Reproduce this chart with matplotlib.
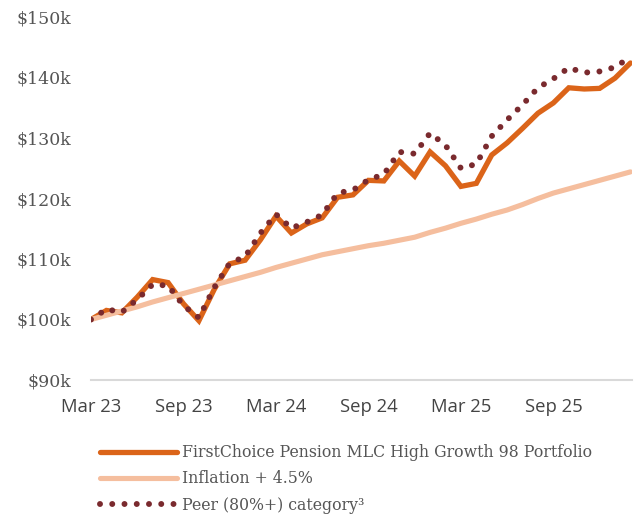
import matplotlib
matplotlib.use("Agg")
import matplotlib.pyplot as plt
import numpy as np

# Monthly values, Mar 2023 .. Feb 2026 (growth of $100k, in $k)
months = list(range(36))
portfolio = [100.0, 101.5, 101.1, 103.7, 106.6, 106.1, 102.6, 99.8, 105.0, 109.2,
             109.8, 113.2, 117.1, 114.3, 115.8, 116.8, 120.2, 120.6, 123.0, 122.9,
             126.2, 123.7, 127.7, 125.4, 122.0, 122.5, 127.2, 129.2, 131.6, 134.1,
             135.8, 138.3, 138.1, 138.2, 139.9, 142.4]
inflation = [100.0, 100.7, 101.4, 102.1, 102.9, 103.6, 104.3, 105.0, 105.7, 106.4,
             107.1, 107.8, 108.6, 109.3, 110.0, 110.7, 111.2, 111.7, 112.2, 112.6,
             113.1, 113.6, 114.4, 115.1, 115.9, 116.6, 117.4, 118.1, 119.0, 120.0,
             120.9, 121.6, 122.3, 123.0, 123.7, 124.4]
peer = [100.0, 101.7, 101.2, 103.3, 105.8, 105.6, 102.3, 100.3, 105.3, 109.3,
        110.4, 114.3, 117.4, 115.1, 116.1, 117.3, 120.9, 121.4, 123.1, 124.0,
        127.7, 127.4, 130.8, 128.8, 125.0, 125.7, 130.3, 133.0, 135.5, 138.3,
        139.8, 141.6, 140.8, 141.0, 141.7, 143.4]

x_tick_pos = [0, 6, 12, 18, 24, 30]
x_tick_labels = ["Mar 23", "Sep 23", "Mar 24", "Sep 24", "Mar 25", "Sep 25"]
y_ticks = [90, 100, 110, 120, 130, 140, 150]
y_tick_labels = ["$90k", "$100k", "$110k", "$120k", "$130k", "$140k", "$150k"]

labels = ["FirstChoice Pension MLC High Growth 98 Portfolio",
          "Inflation + 4.5%",
          "Peer (80%+) category\u00b3"]

c_port = "#DB6419"
c_infl = "#F5BE9E"
c_peer = "#7A2A2E"
c_text = "#555555"

fig = plt.figure(figsize=(6.37, 5.15), dpi=100)
ax = fig.add_axes([91/637, 1-380/515, (632-91)/637, (380-17)/515])

l1, = ax.plot(months, portfolio, color=c_port, lw=3.8, solid_joinstyle="miter",
              solid_capstyle="round", zorder=2)
l2, = ax.plot(months, inflation, color=c_infl, lw=3.7, solid_capstyle="round", zorder=3)
l3, = ax.plot(months, peer, color=c_peer, lw=4.3, linestyle=(0, (0.001, 2.05)),
              dash_capstyle="round", zorder=4)

ax.set_xlim(0, 35.1)
ax.set_ylim(90, 150)
ax.set_yticks(y_ticks)
ax.set_yticklabels(y_tick_labels, fontfamily="DejaVu Serif", fontsize=12.5, color=c_text)
ax.set_xticks(x_tick_pos)
ax.set_xticklabels(x_tick_labels, fontfamily="Open Sans", fontsize=13.3, color="#444444")
ax.tick_params(axis="both", length=0)
ax.tick_params(axis="y", pad=14)
ax.tick_params(axis="x", pad=13)
for s in ["top", "right", "left"]:
    ax.spines[s].set_visible(False)
ax.spines["bottom"].set_color("#D9D9D9")
ax.spines["bottom"].set_linewidth(1.5)

leg = fig.legend([l1, l2, l3], labels, loc="upper left",
                 bbox_to_anchor=(100/637, 1-444/515), frameon=False,
                 prop={"family": "DejaVu Serif", "size": 11.3},
                 handlelength=4.9, handletextpad=0.35, labelspacing=0.6,
                 borderaxespad=0, borderpad=0)
for t in leg.get_texts():
    t.set_color(c_text)

fig.savefig("out.png", dpi=100, facecolor="white")
